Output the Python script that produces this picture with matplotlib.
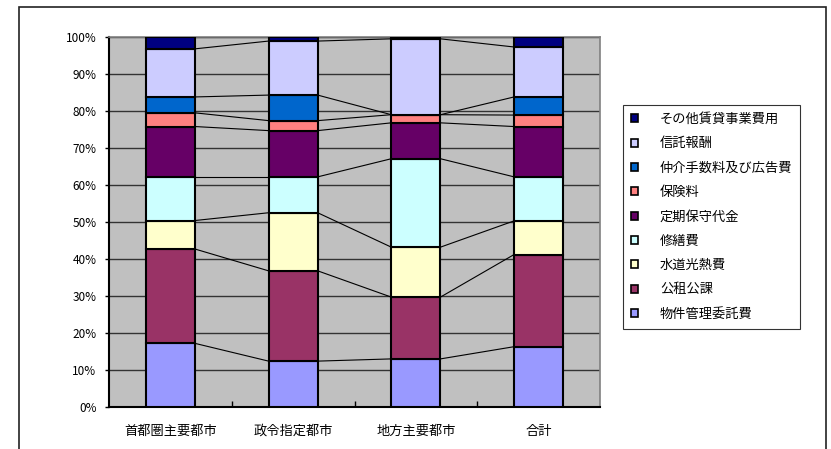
import matplotlib.pyplot as plt
import numpy as np
from matplotlib.patches import Rectangle

plt.rcParams['font.family'] = ['Noto Sans CJK JP', 'DejaVu Sans']

categories = ['首都圏主要都市', '政令指定都市', '地方主要都市', '合計']

# series, bottom to top (percent of total)
series_names = ['物件管理委託費', '公租公課', '水道光熱費', '修繕費', '定期保守代金',
                '保険料', '仲介手数料及び広告費', '信託報酬', 'その他賃貸事業費用']
values = [
    [17.2, 12.4, 13.0, 16.3],   # 物件管理委託費
    [25.5, 24.4, 16.7, 24.9],   # 公租公課
    [7.7, 15.7, 13.5, 9.1],     # 水道光熱費
    [11.8, 9.7, 23.9, 11.9],    # 修繕費
    [13.6, 12.5, 9.7, 13.6],    # 定期保守代金
    [3.7, 2.7, 2.2, 3.1],       # 保険料
    [4.3, 6.9, 0.0, 4.9],       # 仲介手数料及び広告費
    [13.0, 14.6, 20.5, 13.5],   # 信託報酬
    [3.2, 1.1, 0.5, 2.7],       # その他賃貸事業費用
]
colors = ['#9999FF', '#993366', '#FFFFCC', '#CCFFFF', '#660066',
          '#FF8080', '#0066CC', '#CCCCFF', '#000080']

fig = plt.figure(figsize=(8.31, 4.49), dpi=100)
ax = fig.add_axes([109/831, 1-407/449, 491/831, 370/449])
ax.set_facecolor('#C0C0C0')

# outer chart frame
fig.patches.append(Rectangle((19/831, -0.1), 807/831, 1.1-7/449, transform=fig.transFigure,
                             fill=False, edgecolor='#222222', lw=1.2))

x = np.arange(len(categories))
w = 0.4
bottom = np.zeros(len(categories))
handles = []
for name, vals, c in zip(series_names, values, colors):
    vals = np.array(vals)
    b = ax.bar(x, vals, w, bottom=bottom, color=c, edgecolor='black', linewidth=1.5,
               label=name, zorder=3)
    handles.append(b)
    top = bottom + vals
    # series lines between bars
    for i in range(len(x) - 1):
        ax.plot([x[i] + w/2, x[i+1] - w/2], [top[i], top[i+1]], color='black',
                lw=0.8, zorder=2)
    bottom = top

ax.set_xlim(-0.5, len(categories) - 0.5)
ax.set_ylim(0, 100)
ax.set_yticks(np.arange(0, 101, 10))
ax.set_yticklabels([f'{v}%' for v in range(0, 101, 10)], fontsize=8.5)
ax.set_xticks(x)
ax.set_xticklabels(categories, fontsize=9.5)
ax.set_xticks(np.arange(0.5, len(categories) - 1, 1), minor=True)
ax.tick_params(axis='x', which='major', length=0, pad=13)
ax.tick_params(axis='x', which='minor', direction='in', length=4, width=1)
ax.tick_params(axis='y', length=3, width=1, pad=6)
ax.yaxis.grid(True, color='#333333', lw=1, zorder=1)
ax.set_axisbelow(True)
for s in ['left', 'bottom']:
    ax.spines[s].set_color('black')
    ax.spines[s].set_linewidth(1.5)
for s in ['top', 'right']:
    ax.spines[s].set_color('#808080')
    ax.spines[s].set_linewidth(1.2)

leg = fig.legend(handles[::-1], series_names[::-1], loc='upper left',
                 bbox_to_anchor=(623/831, 1-105/449), fontsize=9.5, frameon=True,
                 fancybox=False, edgecolor='black', handlelength=0.55, handleheight=0.55,
                 handletextpad=1.65, labelspacing=0.86, borderpad=0.6, borderaxespad=0)
leg.get_frame().set_linewidth(0.8)
for h in leg.legend_handles:
    h.set_linewidth(1.2)

fig.savefig('out.png', dpi=100)
